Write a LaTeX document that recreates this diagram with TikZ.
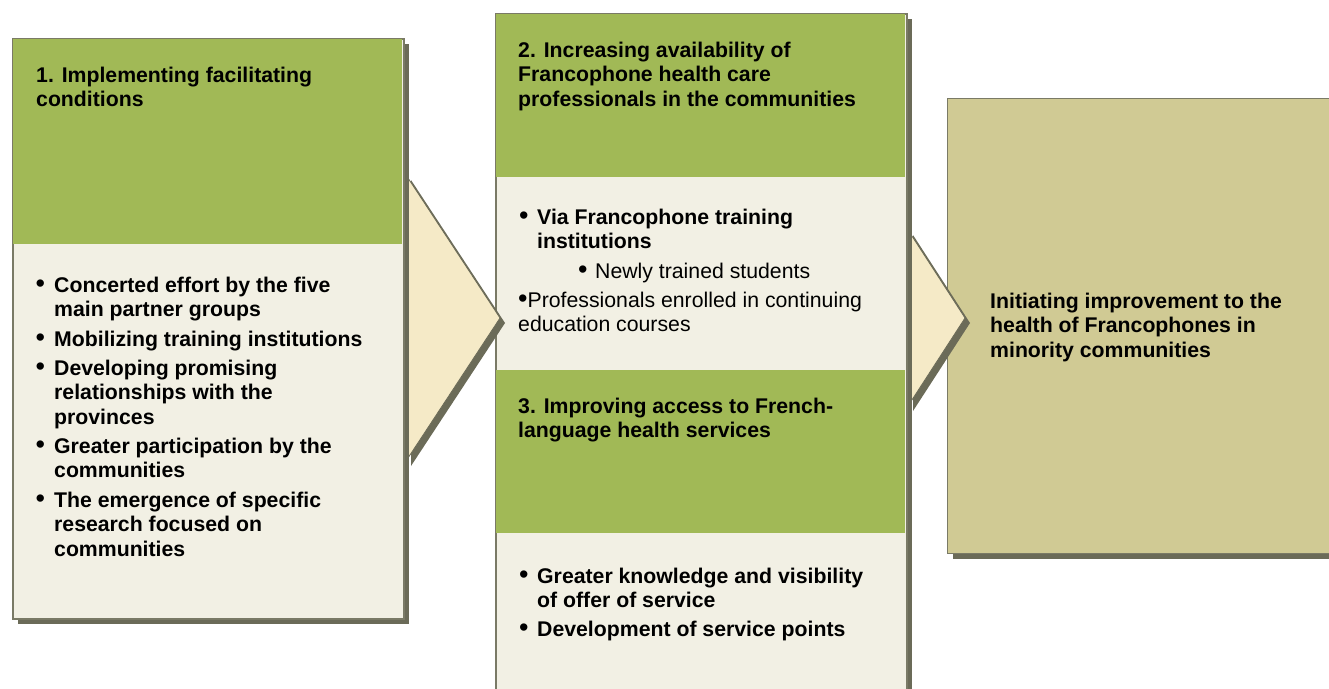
\documentclass[tikz,border=0pt]{standalone}
\usepackage{fontspec}
\setmainfont{Liberation Sans}
\usetikzlibrary{positioning,calc,shadows}
\definecolor{StepGreen}{HTML}{A1B956}
\definecolor{StepCream}{HTML}{F2F0E4}
\definecolor{StepArrow}{HTML}{F5EAC7}
\definecolor{StepGoal}{HTML}{D0CA94}
\definecolor{StepShade}{HTML}{6B6B58}
\definecolor{StepLine}{HTML}{7A7A66}
\newcommand{\bigdot}{{\fontsize{27}{24.5}\selectfont•}}
\tikzset{
  panel/.style={anchor=north west, inner sep=0pt, fill=StepCream, draw=StepLine, line width=1.5pt,
                drop shadow={shadow xshift=5.5pt, shadow yshift=-5.5pt, fill=StepShade, opacity=1}},
  band/.style={anchor=north west, inner sep=0pt, fill=StepGreen},
  chevron/.style={fill=StepArrow, draw=StepShade, line width=0.8pt, line join=miter},
  % multi-line texts sit on the baseline of their last line
  heading/.style={anchor=base west, inner sep=0pt, align=left, font=\bfseries\fontsize{21.25}{24.5}\selectfont},
  item/.style={heading},
  note/.style={anchor=base west, inner sep=0pt, align=left, font=\fontsize{21.25}{24.5}\selectfont},
  dot/.style={anchor=base west, inner sep=0pt, font=\fontsize{27}{24.5}\selectfont},
}
\begin{document}
\begin{tikzpicture}[x=1pt, y=-1pt]
  \useasboundingbox (0,0) rectangle (1329,688);
  \clip (0,0) rectangle (1329,688);

  % outcome on the right
  \node[panel, fill=StepGoal, line width=1pt, minimum width=400pt, minimum height=455pt] (goal) at (947,98) {};
  \node[heading] (goaltxt) at (990,357) {Initiating improvement to the\\health of Francophones in\\minority communities};

  % chevron between column 2 and the outcome
  \coordinate (c2top) at (908,230);
  \coordinate (c2tip) at (965,318);
  \coordinate (c2bot) at (908,406);
  \fill[StepShade] ([shift={(5,5)}]c2top) -- ([shift={(5,5)}]c2tip) -- ([shift={(5,5)}]c2bot) -- cycle;
  \draw[chevron] (c2top) -- (c2tip) -- (c2bot) -- cycle;

  % column 2: availability and access
  \node[panel, minimum width=411pt, minimum height=720pt] (goal2) at (495,13) {};
  \node[band, minimum width=409.5pt, minimum height=163.25pt] (head2) at ([shift={(0.75,0.75)}]goal2.north west) {};
  \node[band, minimum width=409.5pt, minimum height=163pt] (head3) at (495.75,370) {};
  \node[heading] (t2) at (518,106) {2. Increasing availability of\\Francophone health care\\professionals in the communities};
  \node[dot] (d21) at (519,224) {•};
  \node[item] (i21) at (537,248.5) {Via Francophone training\\institutions};
  \node[dot] (d22) at (578,278) {•};
  \node[note] (i22) at (595,278) {Newly trained students};
  \node[note] (i23) at (518,331.5) {\bigdot Professionals enrolled in continuing\\education courses};
  \node[heading] (t3) at (518,437.5) {3. Improving access to French-\\language health services};
  \node[dot] (d31) at (519,583) {•};
  \node[item] (i31) at (537,607.5) {Greater knowledge and visibility\\of offer of service};
  \node[dot] (d32) at (519,636) {•};
  \node[item] (i32) at (537,636) {Development of service points};

  % chevron between column 1 and column 2
  \coordinate (c1top) at (406,175);
  \coordinate (c1tip) at (500,318);
  \coordinate (c1bot) at (406,461);
  \fill[StepShade] ([shift={(5,5)}]c1top) -- ([shift={(5,5)}]c1tip) -- ([shift={(5,5)}]c1bot) -- cycle;
  \draw[chevron] (c1top) -- (c1tip) -- (c1bot) -- cycle;

  % column 1: facilitating conditions
  \node[panel, minimum width=391pt, minimum height=580pt] (goal1) at (12,38) {};
  \node[band, minimum width=389.5pt, minimum height=205.25pt] (head1) at ([shift={(0.75,0.75)}]goal1.north west) {};
  \node[heading] (t1) at (36,106.5) {1. Implementing facilitating\\conditions};
  \node[dot] (d11) at (35.5,292) {•};
  \node[item] (i11) at (54,316.5) {Concerted effort by the five\\main partner groups};
  \node[dot] (d12) at (35.5,346) {•};
  \node[item] (i12) at (54,346) {Mobilizing training institutions};
  \node[dot] (d13) at (35.5,375) {•};
  \node[item] (i13) at (54,424) {Developing promising\\relationships with the\\provinces};
  \node[dot] (d14) at (35.5,453) {•};
  \node[item] (i14) at (54,477.5) {Greater participation by the\\communities};
  \node[dot] (d15) at (35.5,507) {•};
  \node[item] (i15) at (54,556) {The emergence of specific\\research focused on\\communities};
\end{tikzpicture}
\end{document}
